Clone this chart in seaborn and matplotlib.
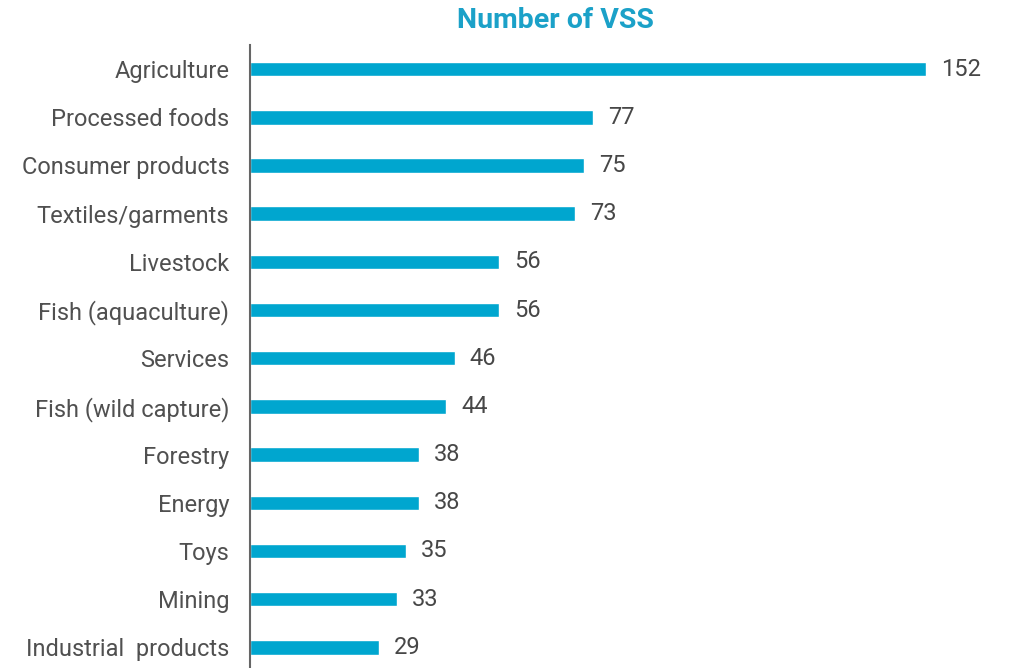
import matplotlib
matplotlib.use("Agg")
import matplotlib.pyplot as plt
import seaborn as sns
import pandas as pd

sectors = ["Agriculture", "Processed foods", "Consumer products", "Textiles/garments",
           "Livestock", "Fish (aquaculture)", "Services", "Fish (wild capture)",
           "Forestry", "Energy", "Toys", "Mining", "Industrial  products"]
vss_counts = [152, 77, 75, 73, 56, 56, 46, 44, 38, 38, 35, 33, 29]

df = pd.DataFrame({"sector": sectors, "count": vss_counts})

sns.set_style("white")
plt.rcParams["font.family"] = ["Roboto", "DejaVu Sans"]

fig = plt.figure(figsize=(10.09, 6.68), dpi=100)
ax = fig.add_axes([250 / 1009, 0, 750 / 1009, 623 / 668])

sns.barplot(data=df, x="count", y="sector", orient="h", color="#00A6CF",
            saturation=1, width=0.3, ax=ax)

ax.bar_label(ax.containers[0], padding=11, fontsize=17, color="#474747")

ax.set_xlim(0, 168.6)
ax.set_ylim(12.43, -0.5)
ax.set_xlabel("")
ax.set_ylabel("")
ax.set_xticks([])
ax.tick_params(axis="y", length=0, pad=15, labelsize=17, labelcolor="#505050")

for side in ["top", "right", "bottom"]:
    ax.spines[side].set_visible(False)
ax.spines["left"].set_color("#666666")
ax.spines["left"].set_linewidth(1.5)

fig.text(555 / 1009, 1 - 21 / 668, "Number of VSS", ha="center", va="center",
         fontsize=20.5, fontweight="bold", color="#1BA1C8")

fig.savefig("out.png", dpi=100)
plt.close(fig)
